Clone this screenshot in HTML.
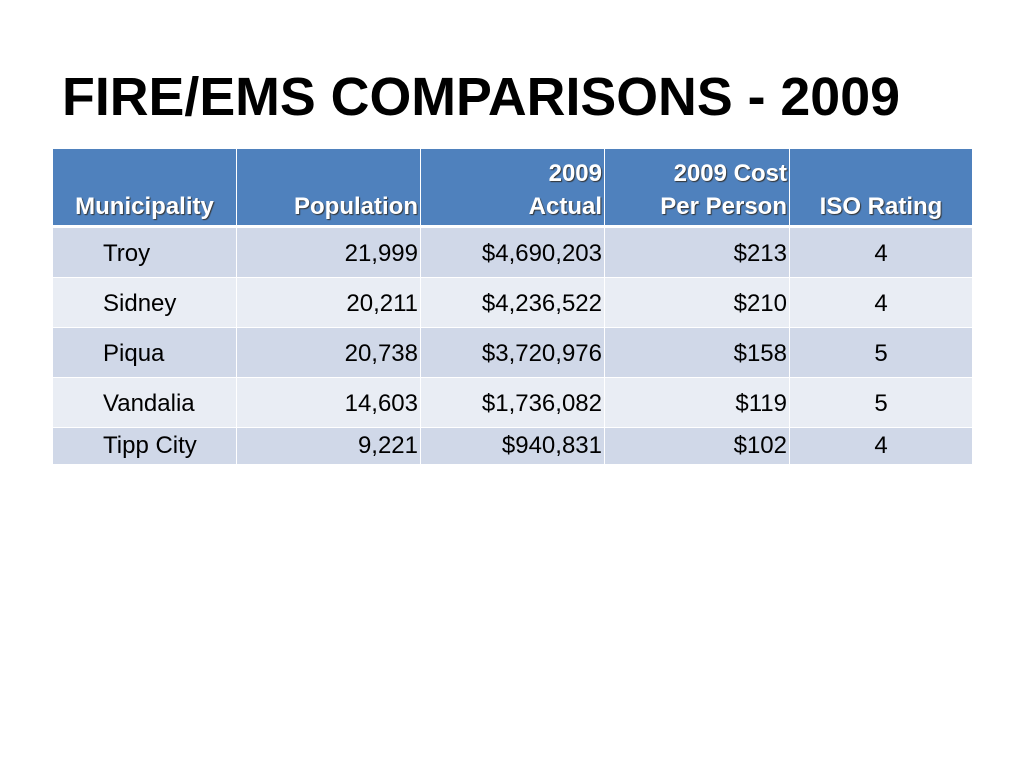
<!DOCTYPE html>
<html><head><meta charset="utf-8"><style>
body{margin:0;width:1024px;height:768px;background:#fff;position:relative;overflow:hidden;font-family:"Liberation Sans",sans-serif}
#title{position:absolute;left:62px;top:66px;font-size:54px;font-weight:bold;color:#000;white-space:nowrap;transform-origin:0 0;transform:scaleX(0.995)}
table{position:absolute;left:52px;top:148px;border-collapse:collapse;table-layout:fixed;width:920px}
td,th{border:1px solid #fff;font-size:24px;padding:0 2px;color:#000;overflow:hidden;white-space:nowrap}
th{background:#4F81BD;color:#fff;font-weight:bold;height:74px;vertical-align:bottom;padding-bottom:2px;line-height:33px;text-shadow:1px 1px 1px #333;border-bottom:3px solid #fff}
tr.d td{background:#D0D8E8}
tr.l td{background:#E9EDF4}
td{height:46px;padding-top:3px}
td.n{text-align:right}
td.c{text-align:center}
td.m{padding-left:50px}
tr.last td{height:36px;padding-top:0}
</style></head><body>
<div id="title">FIRE/EMS COMPARISONS - 2009</div>
<table>
<colgroup><col style="width:184px"><col style="width:184px"><col style="width:184px"><col style="width:185px"><col style="width:183px"></colgroup>
<tr>
<th style="text-align:center">Municipality</th>
<th style="text-align:right">Population</th>
<th style="text-align:right">2009<br>Actual</th>
<th style="text-align:right">2009 Cost<br>Per Person</th>
<th style="text-align:center">ISO Rating</th>
</tr>
<tr class="d"><td class="m">Troy</td><td class="n">21,999</td><td class="n">$4,690,203</td><td class="n">$213</td><td class="c">4</td></tr>
<tr class="l"><td class="m">Sidney</td><td class="n">20,211</td><td class="n">$4,236,522</td><td class="n">$210</td><td class="c">4</td></tr>
<tr class="d"><td class="m">Piqua</td><td class="n">20,738</td><td class="n">$3,720,976</td><td class="n">$158</td><td class="c">5</td></tr>
<tr class="l"><td class="m">Vandalia</td><td class="n">14,603</td><td class="n">$1,736,082</td><td class="n">$119</td><td class="c">5</td></tr>
<tr class="d last"><td class="m">Tipp City</td><td class="n">9,221</td><td class="n">$940,831</td><td class="n">$102</td><td class="c">4</td></tr>
</table>
</body></html>
